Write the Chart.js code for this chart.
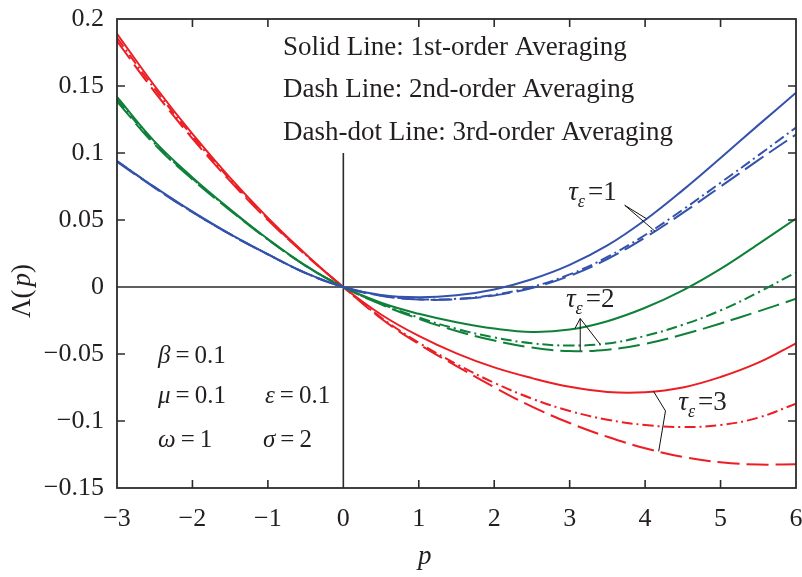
<!DOCTYPE html>
<html>
<head>
<meta charset="utf-8">
<script src="https://cdn.jsdelivr.net/npm/chart.js@4"></script>
<style>
  html, body { margin: 0; padding: 0; background: #ffffff; }
  canvas { display: block; }
</style>
</head>
<body>
<canvas id="chart" width="802" height="577"></canvas>
<script>
// Sample points of p
const pValues = [-3, -2.5, -2, -1.5, -1, -0.5, 0, 0.5, 1, 1.5, 2, 2.5, 3, 3.5, 4, 4.5, 5, 5.5, 6];

// tau_eps = 1 (blue)
const tau1First  = [0.094, 0.0745, 0.0562, 0.0395, 0.0245, 0.0105, 0, -0.006, -0.0077, -0.0062, -0.0018, 0.0058, 0.0165, 0.031, 0.050, 0.0723, 0.0963, 0.1208, 0.145];
const tau1Second = [0.0935, 0.074, 0.0558, 0.0392, 0.0243, 0.0104, 0, -0.0065, -0.0093, -0.0091, -0.0063, -0.0007, 0.0083, 0.0209, 0.0369, 0.0553, 0.0749, 0.0947, 0.1138];
const tau1Third  = [0.094, 0.0743, 0.056, 0.0394, 0.0244, 0.0104, 0, -0.0064, -0.0091, -0.0088, -0.0058, 0.0001, 0.0094, 0.0224, 0.0388, 0.0577, 0.0778, 0.0982, 0.119];

// tau_eps = 2 (green)
const tau2First  = [0.1418, 0.1085, 0.0818, 0.058, 0.0358, 0.016, 0, -0.0118, -0.020, -0.0263, -0.031, -0.0335, -0.0318, -0.0255, -0.0155, -0.0025, 0.0135, 0.032, 0.051];
const tau2Second = [0.1385, 0.1063, 0.0803, 0.0572, 0.0354, 0.0158, 0, -0.013, -0.0238, -0.0328, -0.040, -0.0452, -0.0478, -0.0468, -0.0425, -0.0355, -0.0272, -0.0182, -0.0088];
const tau2Third  = [0.140, 0.1072, 0.081, 0.0576, 0.0356, 0.0159, 0, -0.0125, -0.0228, -0.0312, -0.0376, -0.042, -0.0437, -0.0422, -0.0365, -0.0282, -0.0175, -0.004, 0.011];

// tau_eps = 3 (red)
const tau3First  = [0.189, 0.150, 0.1142, 0.0814, 0.0516, 0.0246, 0, -0.0205, -0.0365, -0.0495, -0.060, -0.068, -0.0745, -0.0783, -0.0785, -0.075, -0.0672, -0.0565, -0.042];
const tau3Second = [0.1835, 0.1455, 0.1108, 0.079, 0.050, 0.0239, 0, -0.0235, -0.0425, -0.059, -0.0748, -0.0893, -0.1015, -0.1118, -0.1203, -0.1268, -0.1308, -0.1325, -0.1322];
const tau3Third  = [0.186, 0.1478, 0.1125, 0.0802, 0.0508, 0.0242, 0, -0.0228, -0.0415, -0.0575, -0.0715, -0.0833, -0.0925, -0.099, -0.103, -0.1045, -0.103, -0.0975, -0.087];

// Axis ticks
const xTicks = [-3, -2, -1, 0, 1, 2, 3, 4, 5, 6];
const xTickLabels = ['\u22123', '\u22122', '\u22121', '0', '1', '2', '3', '4', '5', '6'];
const yTicks = [-0.15, -0.1, -0.05, 0, 0.05, 0.1, 0.15, 0.2];
const yTickLabels = ['\u22120.15', '\u22120.1', '\u22120.05', '0', '0.05', '0.1', '0.15', '0.2'];

const BLUE = 'rgb(52, 82, 172)';
const GREEN = 'rgb(14, 128, 58)';
const RED = 'rgb(236, 30, 36)';
const INK = '#231f20';
const SERIF = "'Liberation Serif', 'Times New Roman', serif";

const SOLID = [];
const DASH = [22, 7];
const DASHDOT = [11, 4, 2, 4];

function series(values, color, dash) {
  return {
    data: pValues.map((p, i) => ({ x: p, y: values[i] })),
    borderColor: color,
    borderWidth: 2,
    borderDash: dash,
    pointRadius: 0,
    fill: false,
    showLine: true,
    tension: 0.4
  };
}

// linear interpolation on a series, used to land leader lines on a curve
function valueAt(values, p) {
  for (let i = 0; i < pValues.length - 1; i++) {
    if (p >= pValues[i] && p <= pValues[i + 1]) {
      const t = (p - pValues[i]) / (pValues[i + 1] - pValues[i]);
      return values[i] + t * (values[i + 1] - values[i]);
    }
  }
  return values[values.length - 1];
}

function fontOf(size, italic) {
  return (italic ? 'italic ' : '') + size + 'px ' + SERIF;
}

// draws a run of text pieces left to right
function rich(ctx, x, y, parts) {
  for (const part of parts) {
    if (part.gap) { x += part.gap; continue; }
    ctx.font = fontOf(part.size || 25, part.it);
    ctx.fillText(part.t, x, y + (part.dy || 0));
    x += ctx.measureText(part.t).width;
  }
}

const frameAndAxes = {
  id: 'frameAndAxes',
  beforeDatasetsDraw(chart) {
    const { ctx, chartArea: a, scales: { x, y } } = chart;
    ctx.save();
    ctx.strokeStyle = '#2b2b2b';
    ctx.lineWidth = 1.6;
    // zero lines
    const y0 = y.getPixelForValue(0);
    const x0 = x.getPixelForValue(0);
    ctx.beginPath();
    ctx.moveTo(a.left, y0); ctx.lineTo(a.right, y0);
    ctx.moveTo(x0, y.getPixelForValue(0.1)); ctx.lineTo(x0, a.bottom);
    ctx.stroke();
    ctx.restore();
  },
  afterDatasetsDraw(chart) {
    const { ctx, chartArea: a, scales: { x, y } } = chart;
    ctx.save();
    ctx.strokeStyle = '#2b2b2b';
    ctx.lineWidth = 1.8;
    ctx.strokeRect(a.left, a.top, a.right - a.left, a.bottom - a.top);

    // inward tick marks
    const tl = 8;
    ctx.lineWidth = 1.6;
    ctx.beginPath();
    xTicks.forEach(v => {
      if (v === xTicks[0] || v === xTicks[xTicks.length - 1] || v === 0) return;
      const px = x.getPixelForValue(v);
      ctx.moveTo(px, a.bottom); ctx.lineTo(px, a.bottom - tl);
      ctx.moveTo(px, a.top); ctx.lineTo(px, a.top + tl);
    });
    yTicks.forEach(v => {
      if (v === yTicks[0] || v === yTicks[yTicks.length - 1] || v === 0) return;
      const py = y.getPixelForValue(v);
      ctx.moveTo(a.left, py); ctx.lineTo(a.left + tl, py);
      ctx.moveTo(a.right, py); ctx.lineTo(a.right - tl, py);
    });
    ctx.stroke();

    // leader lines from the tau labels to the curves
    const P = (px, py) => [x.getPixelForValue(px), y.getPixelForValue(py)];
    const leader = (from, to) => {
      const f = P(from[0], from[1]);
      const t = P(to[0], to[1]);
      ctx.moveTo(f[0], f[1]); ctx.lineTo(t[0], t[1]);
    };
    ctx.strokeStyle = '#111';
    ctx.lineWidth = 1;
    ctx.beginPath();
    const v1 = [3.73, 0.061];
    leader(v1, [4.02, valueAt(tau1First, 4.02)]);
    leader(v1, [4.13, valueAt(tau1Second, 4.13)]);
    const v2 = [3.14, -0.0235];
    leader(v2, [3.07, valueAt(tau2First, 3.07)]);
    leader(v2, [3.40, valueAt(tau2Third, 3.40)]);
    leader(v2, [3.14, valueAt(tau2Second, 3.14)]);
    const v3 = [4.27, -0.0925];
    leader([4.11, valueAt(tau3First, 4.11)], v3);
    leader(v3, [4.18, valueAt(tau3Second, 4.18)]);
    ctx.stroke();

    // text
    ctx.fillStyle = INK;
    ctx.textBaseline = 'alphabetic';
    ctx.textAlign = 'left';

    const tauLabel = (pv, lv, digit) => {
      const [px, py] = P(pv, lv);
      rich(ctx, px, py, [
        { t: '\u03c4', it: true, size: 27 },
        { t: '\u03b5', it: true, size: 18, dy: 7 },
        { gap: 3 },
        { t: '=' + digit, size: 27 }
      ]);
    };
    tauLabel(2.98, 0.0647, '1');
    tauLabel(2.95, -0.0152, '2');
    tauLabel(4.44, -0.092, '3');

    // method notes
    ctx.font = fontOf(27, false);
    ctx.fillText('Solid Line: 1st-order Averaging', 283, 55);
    ctx.fillText('Dash Line: 2nd-order Averaging', 283, 97);
    ctx.fillText('Dash-dot Line: 3rd-order Averaging', 283, 140);

    // parameters
    const eq = (sym, val, px, py) => rich(ctx, px, py, [
      { t: sym, it: true, size: 25 }, { gap: 5 }, { t: '=', size: 25 }, { gap: 5 }, { t: val, size: 25 }
    ]);
    eq('\u03b2', '0.1', 158, 363);
    eq('\u03bc', '0.1', 158, 403);
    eq('\u03b5', '0.1', 265, 403);
    eq('\u03c9', '1', 158, 447);
    eq('\u03c3', '2', 263, 447);

    // axis titles
    rich(ctx, 418, 564, [{ t: 'p', it: true, size: 27 }]);
    ctx.translate(30, 318);
    ctx.rotate(-Math.PI / 2);
    rich(ctx, 0, 0, [
      { t: '\u039b(', size: 27 }, { gap: 3 }, { t: 'p', it: true, size: 27 }, { t: ')', size: 27 }
    ]);
    ctx.restore();
  }
};

new Chart(document.getElementById('chart'), {
  type: 'scatter',
  data: {
    datasets: [
      series(tau1First, BLUE, SOLID),
      series(tau1Second, BLUE, DASH),
      series(tau1Third, BLUE, DASHDOT),
      series(tau2First, GREEN, SOLID),
      series(tau2Second, GREEN, DASH),
      series(tau2Third, GREEN, DASHDOT),
      series(tau3First, RED, SOLID),
      series(tau3Second, RED, DASH),
      series(tau3Third, RED, DASHDOT)
    ]
  },
  options: {
    responsive: false,
    animation: false,
    devicePixelRatio: 1,
    layout: { padding: { top: 19, right: 6, left: 0, bottom: 0 } },
    plugins: { legend: { display: false }, tooltip: { enabled: false } },
    scales: {
      x: {
        type: 'linear',
        min: -3, max: 6,
        grid: { display: false, drawTicks: false },
        border: { display: false },
        afterBuildTicks: s => { s.ticks = xTicks.map(v => ({ value: v })); },
        afterFit: s => { s.height = 89; s.paddingLeft = 0; s.paddingRight = 0; },
        ticks: {
          padding: 16,
          color: INK,
          font: { family: SERIF, size: 26 },
          maxRotation: 0,
          autoSkip: false,
          callback: v => xTickLabels[xTicks.indexOf(v)]
        }
      },
      y: {
        type: 'linear',
        min: -0.15, max: 0.2,
        grid: { display: false, drawTicks: false },
        border: { display: false },
        afterBuildTicks: s => { s.ticks = yTicks.map(v => ({ value: v })); },
        afterFit: s => { s.width = 117; s.paddingTop = 0; s.paddingBottom = 0; },
        ticks: {
          padding: 13,
          color: INK,
          font: { family: SERIF, size: 26 },
          autoSkip: false,
          callback: v => {
            const i = yTicks.findIndex(t => Math.abs(t - v) < 1e-9);
            return i >= 0 ? yTickLabels[i] : '';
          }
        }
      }
    }
  },
  plugins: [frameAndAxes]
});
</script>
</body>
</html>
